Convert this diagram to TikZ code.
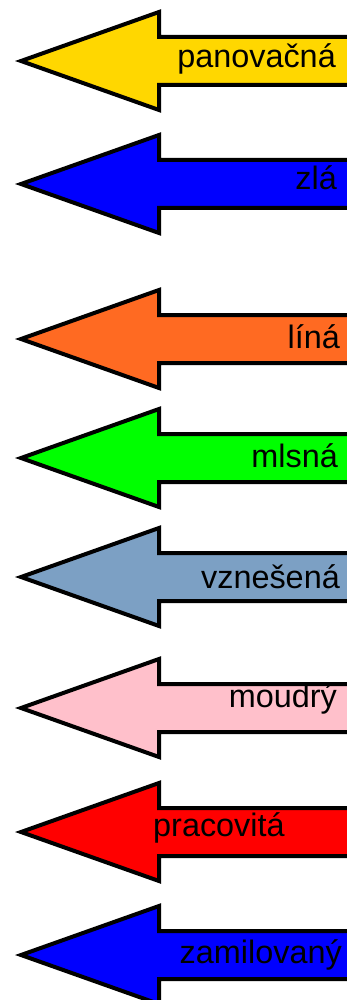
\documentclass[tikz,border=0pt]{standalone}
\usepackage{fontspec}
\setmainfont{Liberation Sans}
\usetikzlibrary{positioning}
\definecolor{zlutaC}{RGB}{255,215,0}
\definecolor{oranzC}{RGB}{255,106,34}
\definecolor{sediC}{RGB}{124,160,196}
\definecolor{ruzC}{RGB}{255,192,203}
\tikzset{
  sipka/.style={draw=black, line width=4pt, line join=miter},
  slovo/.style={inner sep=0pt, font=\fontsize{32.4}{38}\selectfont}
}

\begin{document}
\begin{tikzpicture}[x=1pt, y=-1pt]
\clip (0,0) rectangle (347,1000);
\foreach \y/\barva/\slovo/\bl/\xx/\kotva [count=\i] in
  {61/zlutaC/panovačná/68/336/east,
   184/blue/zlá/190/337/east,
   339/oranzC/líná/348/340/east,
   458/green/mlsná/467/338/east,
   577/sediC/vznešená/588/340/east,
   708/ruzC/moudrý/707/337/east,
   832/red/pracovitá/836/153/west,
   955/blue/zamilovaný/963/342/east}
{
    \draw[sipka, fill=\barva](21,\y)--(159,\y-49)--(159,\y-24)--(362,\y-24)
        --(362,\y+24)--(159,\y+24)--(159,\y+49)--cycle;
    \node[slovo, anchor=base \kotva](w\i) at (\xx,\bl){\slovo};
}
\end{tikzpicture}
\end{document}
